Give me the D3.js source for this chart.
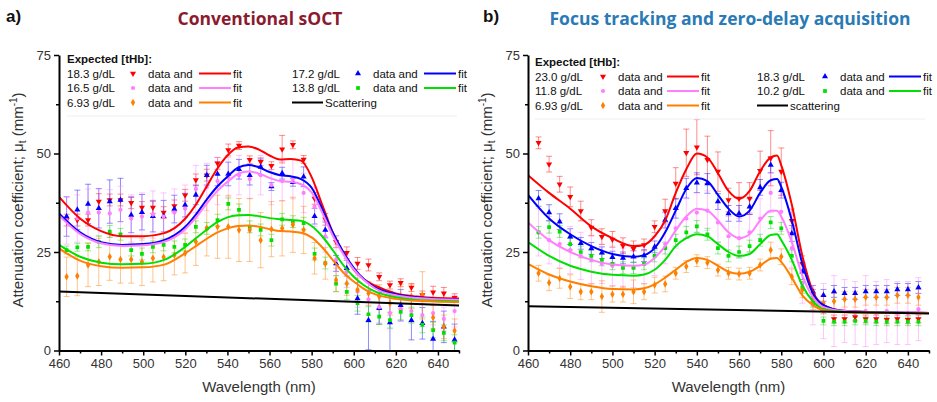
<!DOCTYPE html>
<html><head><meta charset="utf-8">
<script src="https://cdn.jsdelivr.net/npm/d3@7"></script>
<style>body{margin:0;background:#fff} svg{display:block}</style>
</head><body><svg id="c" width="937" height="402"></svg>
<script>
// ---------- Panel a: Conventional sOCT ----------
const waveA = [463.6,468.7,473.8,478.9,484.1,489.2,494.3,499.4,504.6,509.7,514.8,519.9,525.0,530.2,535.3,540.4,545.5,550.6,555.8,560.9,566.0,571.1,576.2,581.4,586.5,591.6,596.7,601.8,607.0,612.1,617.2,622.3,627.4,632.6,637.7,642.8,647.9];
const redA = [33.1,33.1,33.1,37.8,38.2,38.2,37.5,36.3,36.3,35,36.7,39.4,43.3,44.5,47.5,50.9,52,48.4,47.9,46.9,51.1,52.2,48.5,38.6,33.3,27.6,24.8,22.1,21.7,18.7,16.6,17.2,16,14.1,14.8,14.5,13.4];
const redAErr = [1.5,1.5,1.5,2,1.5,1.5,1.5,1.5,1.5,1.5,1.5,1.5,1.5,1.5,1.5,1.5,1,1,1,1,3.5,1,1,1.5,1.5,1.5,1.5,1.5,1.5,1,1,1,1,1,1.5,1.5,1];
const blueA = [34,35.7,37.2,36.1,37.8,38.2,34.4,35.1,34.1,34.1,35.9,36.9,39.5,44.5,44.8,44.8,46,44.5,46.6,41.6,45,42.7,44.1,34.1,30.6,22.1,20.9,13.2,7.7,10.7,7.1,11.5,7.7,6.9,2.9,6.0,2.7];
const blueAErr = [5,5,5,5,5.5,5.5,4.5,4.5,4,4,3.5,3,2.5,2.5,3,3,2.5,2.5,2,1,1.5,1,2.5,2,2,2,2,4,7.5,4,7.5,4,5,4,4.5,4,4];
const pinkA = [33,33.5,35,35,34.8,35.7,33.5,34,34.5,34,35,36,41,41.5,43,44,44.5,43.5,44.5,42,43,43.5,40,36.5,29,23,20,15,13,11,9.5,10.5,10,9,9.5,8,10];
const pinkAErr = [6,6,6,6,6,6,6,6,6,6,6,6,6,6,6,5,5,5,5,5,5,5,5,5,4,4,4,4,4,4,4,3,3,3,3,3,4];
const greenA = [25.5,26.2,26.3,27.6,30.2,29.5,25.5,24.5,26.3,26.8,26.3,26.8,31.4,31,33.1,37.2,35.7,31.4,30.6,28,33.3,32.7,32.3,24.5,22.2,17,14.9,12,9.2,8.6,7.7,9.8,9,6.5,5.2,4.5,2];
const greenAErr = [1,1,1,1.5,1.5,1.5,1.5,1.5,1.5,1.5,1.5,1.5,1.5,1.5,1.5,1.5,1.5,1.5,1.5,1.5,1.5,1.5,1.5,1.5,1.5,2,2,2,2,2,2,2,2,2,2,2,2];
const orangeA = [18.7,18.9,21.7,22.5,23.8,23.1,23.1,22.5,23.4,23.7,24.2,24.7,27.6,31,31.4,31.4,30.6,30.6,28,30.8,31,31.9,30.6,23.4,22.1,17.9,17,15.4,14.5,13.7,12,13.7,13.7,14,8.4,6,5];
const orangeAErr = [5,5,5.5,6,6,6,6,6,6,6,5,5,6,7,8,8,8,8,7,7,7,7,6,4,4,3,3,3,3,3,3,3,3,6,3,3,3];
const fitWaveA = [460,470,480,490,500,510,520,525,530,535,540,545,550,555,560,565,570,575,580,585,590,595,600,605,610,620,630,640,650];
const redFitA = [39,33.5,30.3,29,29,29.8,33.5,37,41.5,46,49.5,51.5,51.8,51,49.5,48.5,48.6,48.2,44,37,30,25,20.5,18,16.5,14.5,13.7,13.3,13.2];
const blueFitA = [34.8,30,27.5,26.8,27,28,31.4,34.5,38.2,41.5,44.1,46.4,47.1,46.5,45.3,44.5,44.2,43.5,41.3,36,30,25,21,18,16,14.3,13.5,13.1,13];
const pinkFitA = [34.3,29.6,27.2,26.5,26.7,27.6,30.8,33.7,37.2,40.4,42.8,44.8,45.4,44.9,43.8,43,42.8,42.2,40.1,35,29.2,24.5,20.6,17.8,15.8,14,13.3,13,12.9];
const greenFitA = [26.8,23.8,22.3,21.9,22,23,26.3,28.5,30.6,32.5,33.8,34.3,34.4,34.1,33.6,33.3,33.1,32.9,31.6,29,25.5,21.7,18.7,16.5,15,13.5,12.8,12.6,12.5];
const orangeFitA = [25.9,22.8,21.4,21,21.1,21.8,24.7,26.5,28.3,29.9,31,31.6,31.7,31.4,30.8,30.3,30.2,29.9,28.7,26.2,23,19.8,17.5,15.6,14.3,13.1,12.6,12.4,12.3];
const scatterWaveA = [460,650];
const scatterA = [15,11.4];
const legendA = ["18.3 g/dL","17.2 g/dL","16.5 g/dL","13.8 g/dL","6.93 g/dL","Scattering"];

// ---------- Panel b: Focus tracking and zero-delay acquisition ----------
const waveB = [465,470,475,480,485,490,495,500,505,510,515,520,525,530,535,540,545,550,555,560,565,570,575,580,585,590,595,600,605,610,615,620,625,630,635,640,645];
const redB = [52.7,47.3,42.2,39,35.4,31.2,28.9,28.2,26.6,25.8,26.8,31.4,35.4,42.4,50.2,51.6,48.4,45.4,38.2,38.6,38.6,45.6,48.8,45.4,32.9,22,14,10.3,8,8,8.5,8,8,7.8,8,7.8,8];
const redBErr = [1.5,2,2,2.5,2.5,2,2,2,2,2,1.5,1.5,3,4,6,7,6,5,3,4,4,5,7,6,3,2,1.5,1,1,1,1,1,1,1,1,1,1];
const blueB = [38.6,35,32.7,28.9,27.2,25.9,24.8,23.7,23.5,23.8,24.1,26.3,33.1,36.1,41.2,42.6,42.4,37.8,34.8,34.8,36.5,41.4,47.1,40.7,29.7,20,15,14,15,14.5,14.5,15,15,15,15.5,15.5,16];
const blueBErr = [2,2,2,2,1.5,1.5,1.5,1.5,1.5,1.5,1.5,1.5,2,2.5,2.5,2.5,2.5,2,2,2,2,2,2,2,2,2,1.5,1.5,1.5,1.5,1.5,1.5,1.5,1.5,1.5,1.5,1.5];
const pinkB = [30,28,27,25.5,24,23,22,21.5,21,21,22,24,27,31,33.5,35,35.5,32.5,29,28.5,30,33.5,40,35.2,26,17,11.5,10,10,10,9.5,10,9.5,10,9.5,9.5,10.5];
const pinkBErr = [6,6,6,6,6,6,5,5,5,5,5,5,5,5,5,5,5,5,5,5,5,5,5,5,5,5,5,7,9,8,8,9,8,8,8,8,8];
const greenB = [30,31.3,30.2,27,25,24,23,22,21,21,22,24,26,28,30,31.5,29.5,26,24,25,26.5,28,32.5,31,24,16,12,7.5,7.3,7.3,7.5,7.5,7.3,7.3,7.3,7.3,7.3];
const greenBErr = [1.5,1.5,1.5,1.5,1.5,1.5,1.5,1.5,1.5,1.5,1.5,1.5,1.5,1.5,1.5,1.5,1.5,1.5,1.5,1.5,1.5,1.5,1.5,1.5,1.5,1.5,1,1,1,1,1,1,1,1,1,1,1];
const orangeB = [19.6,17.2,18.3,16.2,14.9,14.9,13.7,14.3,14.3,14.9,14.9,16.6,16.9,19.6,21.3,22.8,22.3,20.4,19.6,19.4,19.6,21.7,25.5,23.8,18.7,15.4,12.4,12,12.5,13,13,13.5,13.5,13.5,14,14,13.5];
const orangeBErr = [2,2,2.5,3,2,2,4,2,2,3,2,2,2,1.5,1.5,1.5,1.5,1.5,1.5,1.5,1.5,1.5,2,2,2,2,2,2,2,2,2,2,2,2,2,2,2];
const fitWaveB = [460,470,480,490,500,510,515,520,525,530,535,540,545,550,555,560,565,570,575,578,580,585,590,595,600,610,620,630,640,650];
const redFitB = [44.5,40,36,31.5,28.5,26.5,26.8,29,33,40,46,50,49,45,40.5,38.5,40.5,45.5,49,49.5,47,37,24,15,11.5,10,9.8,9.7,9.6,9.5];
const blueFitB = [39.5,33.5,29.5,26.5,24.5,23.8,24.2,26,30,35.5,41,43.8,43,39.5,36,34,35.5,40,43.2,43.5,41.5,33,22,14.5,11.5,10,9.8,9.7,9.6,9.5];
const pinkFitB = [32.5,28,25,23,21.8,21.5,21.8,23.5,26.5,30.5,34,36,35.5,33,30,28.5,29.5,33,35.5,35.5,34,27.5,19,13.5,11,10,9.8,9.7,9.6,9.5];
const greenFitB = [27.5,24,21.5,20,19.2,19,19.3,20.5,23,26.5,28.5,29.5,29,27,25,24,24.5,27,29.3,29.5,28,23,16.5,12.5,10.5,9.8,9.6,9.6,9.5,9.5];
const orangeFitB = [22,19.3,17.5,16.3,15.6,15.5,15.8,16.8,18.5,20.5,22.5,23.5,23,21.5,20,19.5,20,21.5,23.3,23.5,22.5,18.5,14,11.5,10.2,9.7,9.6,9.5,9.5,9.5];
const scatterWaveB = [460,650];
const scatterB = [11.2,9.4];
const legendB = ["23.0 g/dL","18.3 g/dL","11.8 g/dL","10.2 g/dL","6.93 g/dL","scattering"];

// ---------- shared axis tick labels ----------
const xTicks = [460,480,500,520,540,560,580,600,620,640];
const xMinor = [470,490,510,530,550,570,590,610,630,650];
const yTicks = [0,25,50,75];
const yMinor = [12.5,37.5,62.5];

const COLORS = {red:"#ff0000", blue:"#0000ff", pink:"#ff7fff", green:"#00e000", orange:"#ff7f00"};
const SANS = "'Liberation Sans', Arial, sans-serif";
const svg = d3.select("#c");

function drawPanel(p) {
  const x = d3.scaleLinear().domain([460, 650]).range([p.x0, p.x1]);
  const y = d3.scaleLinear().domain([0, 75]).range([350.5, 55]);
  const g = svg.append("g");
  svg.append("clipPath").attr("id", "clip" + p.id).append("rect")
    .attr("x", p.x0).attr("y", 55).attr("width", p.x1 - p.x0).attr("height", 295.5);
  const plot = g.append("g").attr("clip-path", `url(#clip${p.id})`);

  // error bars
  p.series.forEach(s => {
    const eg = plot.append("g").attr("stroke", s.color).attr("stroke-opacity", 0.45).attr("stroke-width", 1);
    p.wave.forEach((w, i) => {
      const cx = x(w), lo = y(s.values[i] - s.err[i]), hi = y(s.values[i] + s.err[i]);
      eg.append("line").attr("x1", cx).attr("x2", cx).attr("y1", lo).attr("y2", hi);
      eg.append("line").attr("x1", cx - 3).attr("x2", cx + 3).attr("y1", lo).attr("y2", lo);
      eg.append("line").attr("x1", cx - 3).attr("x2", cx + 3).attr("y1", hi).attr("y2", hi);
    });
  });
  // markers
  p.series.forEach(s => {
    const sym = d3.symbol().type(s.symbol).size(s.size);
    plot.append("g").selectAll("path").data(p.wave).join("path")
      .attr("d", sym)
      .attr("transform", (w, i) => `translate(${x(w)},${y(s.values[i])})` + (s.down ? " rotate(180)" : ""))
      .attr("fill", s.color);
  });
  // fits
  const line = d3.line().x(d => x(d[0])).y(d => y(d[1])).curve(d3.curveMonotoneX);
  p.series.forEach(s => {
    plot.append("path").datum(p.fitWave.map((w, i) => [w, s.fit[i]]))
      .attr("d", line).attr("fill", "none").attr("stroke", s.color).attr("stroke-width", 2);
  });
  // scattering
  plot.append("path").datum(p.scatWave.map((w, i) => [w, p.scat[i]]))
    .attr("d", d3.line().x(d => x(d[0])).y(d => y(d[1])))
    .attr("fill", "none").attr("stroke", "#000").attr("stroke-width", 2);

  // axes
  const xa = g.append("g").attr("transform", "translate(0,350.5)")
    .call(d3.axisBottom(x).tickValues(xTicks).tickSize(5).tickSizeOuter(0).tickPadding(3));
  g.append("g").attr("transform", "translate(0,350.5)")
    .call(d3.axisBottom(x).tickValues(xMinor).tickSize(3).tickFormat(""))
    .call(a => a.select(".domain").remove());
  const ya = g.append("g").attr("transform", `translate(${p.x0},0)`)
    .call(d3.axisLeft(y).tickValues(yTicks).tickSize(5).tickSizeOuter(0).tickPadding(3));
  g.append("g").attr("transform", `translate(${p.x0},0)`)
    .call(d3.axisLeft(y).tickValues(yMinor).tickSize(3).tickFormat(""))
    .call(a => a.select(".domain").remove());
  g.selectAll(".domain").attr("stroke", "#000").attr("stroke-width", 2);
  g.selectAll(".tick line").attr("stroke", "#000").attr("stroke-width", 1.5);
  g.selectAll(".tick text").attr("font-family", SANS).attr("font-size", 13).attr("fill", "#333");

  // axis titles
  g.append("text").attr("x", (p.x0 + p.x1) / 2).attr("y", 392).attr("text-anchor", "middle")
    .attr("font-family", SANS).attr("font-size", 15).attr("fill", "#333").text("Wavelength (nm)");
  const yl = g.append("text").attr("transform", `translate(${p.ylabX},200) rotate(-90)`)
    .attr("text-anchor", "middle").attr("font-family", SANS).attr("font-size", 15).attr("fill", "#333");
  yl.append("tspan").text("Attenuation coefficient; \u03bc");
  yl.append("tspan").attr("font-size", 10).attr("dy", 3).text("t");
  yl.append("tspan").attr("dy", -3).text(" (mm");
  yl.append("tspan").attr("font-size", 10).attr("dy", -6).text("-1");
  yl.append("tspan").attr("dy", 6).text(")");

  // panel letter and title
  g.append("text").attr("x", p.letterX).attr("y", 22).attr("font-family", SANS).attr("font-weight", "bold")
    .attr("font-size", 17).attr("fill", "#111").text(p.letter);
  g.append("text").attr("x", p.titleX).attr("y", 25).attr("text-anchor", "middle")
    .attr("font-family", "'Open Sans', sans-serif").attr("font-weight", "bold")
    .attr("font-size", p.titleSize).attr("fill", p.titleColor).text(p.title);

  // legend
  const lg = g.append("g").attr("font-family", SANS).attr("font-size", 11.5).attr("fill", "#111");
  const L = p.legend;
  lg.append("line").attr("x1", L.x).attr("x2", L.x + 390).attr("y1", L.y + 53).attr("y2", L.y + 53)
    .attr("stroke", "#eee").attr("stroke-width", 1);
  lg.append("text").attr("x", L.x).attr("y", L.y).attr("font-weight", "bold").text("Expected [tHb]:");
  p.series.forEach((s, k) => {
    const ox = L.x + (s.col === 0 ? 0 : L.col2);
    const oy = L.y + 14.5 * (s.row + 1);
    lg.append("text").attr("x", ox).attr("y", oy).text(p.labels[k]);
    const sym = d3.symbol().type(s.symbol).size(s.size);
    lg.append("path").attr("d", sym).attr("fill", s.color)
      .attr("transform", `translate(${ox + L.mk},${oy - 4})` + (s.down ? " rotate(180)" : ""));
    lg.append("text").attr("x", ox + L.mk + 15).attr("y", oy).text("data and");
    lg.append("line").attr("x1", ox + L.ln).attr("x2", ox + L.ln + 32).attr("y1", oy - 4).attr("y2", oy - 4)
      .attr("stroke", s.color).attr("stroke-width", 2);
    lg.append("text").attr("x", ox + L.ln + 34).attr("y", oy).text("fit");
  });
  const sy = L.y + 14.5 * 3;
  lg.append("line").attr("x1", L.x + L.col2).attr("x2", L.x + L.col2 + 31).attr("y1", sy - 4).attr("y2", sy - 4)
    .attr("stroke", "#000").attr("stroke-width", 2);
  lg.append("text").attr("x", L.x + L.col2 + 33).attr("y", sy).text(p.labels[5]);
}

function mk(color, values, err, fit, symbol, size, down, col, row) {
  return {color, values, err, fit, symbol, size, down, col, row};
}

drawPanel({
  id: "a", x0: 59, x1: 459, ylabX: 23, letter: "a)", letterX: 6,
  title: "Conventional sOCT", titleX: 260, titleColor: "#8b1a2e", titleSize: 17.5,
  wave: waveA, fitWave: fitWaveA, scatWave: scatterWaveA, scat: scatterA, labels: legendA,
  legend: {x: 67, y: 63, col2: 225, mk: 66, ln: 132},
  series: [
    mk(COLORS.red, redA, redAErr, redFitA, d3.symbolTriangle, 16, true, 0, 0),
    mk(COLORS.blue, blueA, blueAErr, blueFitA, d3.symbolTriangle, 16, false, 1, 0),
    mk(COLORS.pink, pinkA, pinkAErr, pinkFitA, d3.symbolCircle, 14, false, 0, 1),
    mk(COLORS.green, greenA, greenAErr, greenFitA, d3.symbolSquare, 14, false, 1, 1),
    mk(COLORS.orange, orangeA, orangeAErr, orangeFitA, d3.symbolDiamond, 16, false, 0, 2)
  ]
});
drawPanel({
  id: "b", x0: 528, x1: 929, ylabX: 492, letter: "b)", letterX: 483,
  title: "Focus tracking and zero-delay acquisition", titleX: 730, titleColor: "#2a7ab5", titleSize: 17.5,
  wave: waveB, fitWave: fitWaveB, scatWave: scatterWaveB, scat: scatterB, labels: legendB,
  legend: {x: 535, y: 66, col2: 222, mk: 68, ln: 132},
  series: [
    mk(COLORS.red, redB, redBErr, redFitB, d3.symbolTriangle, 16, true, 0, 0),
    mk(COLORS.blue, blueB, blueBErr, blueFitB, d3.symbolTriangle, 16, false, 1, 0),
    mk(COLORS.pink, pinkB, pinkBErr, pinkFitB, d3.symbolCircle, 14, false, 0, 1),
    mk(COLORS.green, greenB, greenBErr, greenFitB, d3.symbolSquare, 14, false, 1, 1),
    mk(COLORS.orange, orangeB, orangeBErr, orangeFitB, d3.symbolDiamond, 16, false, 0, 2)
  ]
});
</script>
</body></html>
